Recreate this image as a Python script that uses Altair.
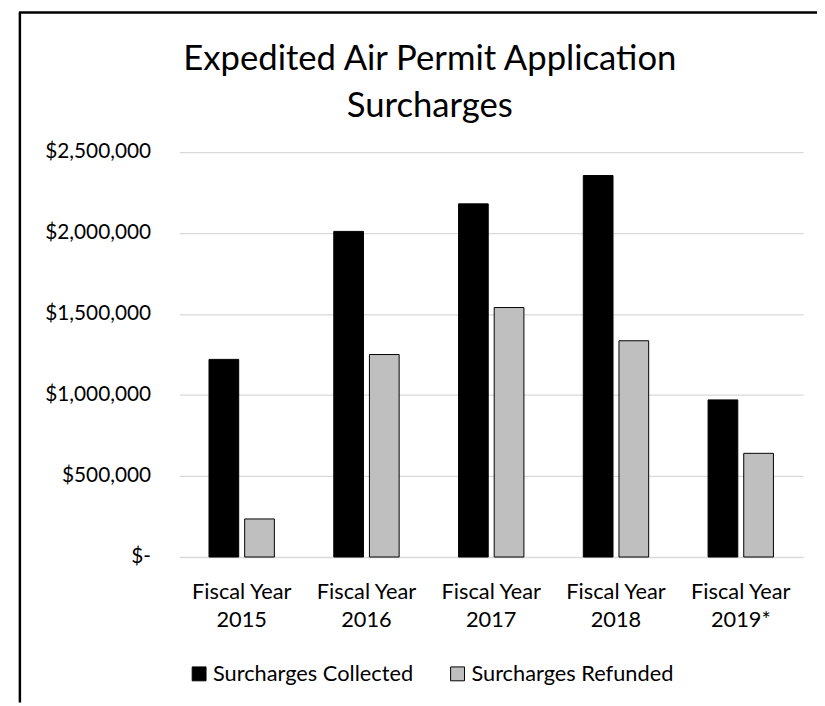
import altair as alt
import pandas as pd

categories = ["Fiscal Year 2015", "Fiscal Year 2016", "Fiscal Year 2017", "Fiscal Year 2018", "Fiscal Year 2019*"]
series_names = ["Surcharges Collected", "Surcharges Refunded"]
collected = [1220000, 2010000, 2180000, 2355000, 970000]
refunded = [235000, 1250000, 1540000, 1335000, 640000]
y_ticks = [0, 500000, 1000000, 1500000, 2000000, 2500000]
title_lines = ["Expedited Air Permit Application", "Surcharges"]

rows = []
for c, a, b in zip(categories, collected, refunded):
    rows.append({"year": c, "series": series_names[0], "amount": a})
    rows.append({"year": c, "series": series_names[1], "amount": b})
df = pd.DataFrame(rows)

FONT = "Lato"

bars = alt.Chart(df).mark_bar(stroke="black", strokeWidth=1).encode(
    x=alt.X(
        "year:N",
        sort=categories,
        scale=alt.Scale(paddingInner=0.476, paddingOuter=0.238),
        axis=alt.Axis(
            title=None, labelAngle=0, domain=False, ticks=False,
            labelFont=FONT, labelFontSize=22, labelColor="black",
            labelPadding=25, labelLineHeight=28, labelLimit=0,
            labelExpr="[substring(datum.label, 0, 11), substring(datum.label, 12)]",
        ),
    ),
    xOffset=alt.XOffset("series:N", sort=series_names,
                        scale=alt.Scale(paddingInner=0.1667, paddingOuter=0)),
    y=alt.Y(
        "amount:Q",
        scale=alt.Scale(domain=[0, 2500000]),
        axis=alt.Axis(
            title=None, values=y_ticks, domain=False, ticks=False,
            labelExpr="datum.value == 0 ? '$-\u2002' : '$' + format(datum.value, ',')",
            labelPadding=29, labelFont=FONT, labelFontSize=21, labelColor="black",
            gridColor="#d9d9d9", gridWidth=1.3,
        ),
    ),
    color=alt.Color(
        "series:N",
        scale=alt.Scale(domain=series_names, range=["#000000", "#bfbfbf"]),
        legend=alt.Legend(
            orient="none", legendX=9, legendY=516, direction="horizontal",
            title=None, symbolType="square", symbolSize=196,
            symbolStrokeColor="black", symbolStrokeWidth=1,
            labelFont=FONT, labelFontSize=22, labelColor="black",
            labelOffset=3, columnPadding=33, labelLimit=0,
        ),
    ),
)

frame_df = pd.DataFrame({"k": [0]})
left_border = alt.Chart(frame_df).mark_rule(color="black", strokeWidth=2.5).encode(
    x=alt.value(-161), y=alt.value(-141), y2=alt.value(556)
)
top_border = alt.Chart(frame_df).mark_rule(color="black", strokeWidth=2.5).encode(
    x=alt.value(-162), x2=alt.value(644), y=alt.value(-141)
)

chart = alt.layer(bars, left_border, top_border).properties(
    width=630,
    height=409,
    padding={"left": 173, "top": 142, "right": 14, "bottom": 147},
    autosize=alt.AutoSizeParams(type="none"),
    title=alt.TitleParams(
        text=title_lines, font=FONT, fontSize=35, fontWeight="normal",
        color="black", anchor="middle", frame="group", dx=-62, offset=-114,
        lineHeight=48,
    ),
).configure_view(stroke=None)

chart.save("out.html", embed_options={"renderer": "svg", "actions": False})
